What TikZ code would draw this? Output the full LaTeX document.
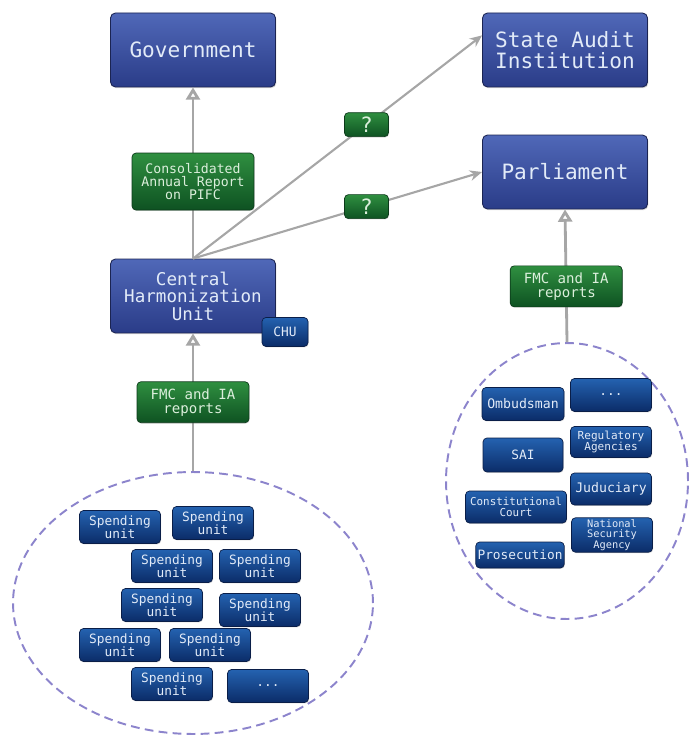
\documentclass[tikz,border=0pt]{standalone}
\usepackage{fontspec}
\setmonofont{DejaVu Sans Mono}
\usetikzlibrary{arrows.meta,shapes.geometric,shadows}
\definecolor{bigtop}{HTML}{5068B8}
\definecolor{bigbot}{HTML}{2A3C88}
\definecolor{bigline}{HTML}{1B2452}
\definecolor{unittop}{HTML}{2462B0}
\definecolor{unitbot}{HTML}{0B2C68}
\definecolor{unitline}{HTML}{0A1E48}
\definecolor{greentop}{HTML}{2F8F40}
\definecolor{greenbot}{HTML}{0E5222}
\definecolor{greenline}{HTML}{0C3A1A}
\definecolor{boxtext}{HTML}{E2EBF8}
\definecolor{greentext}{HTML}{DCEFDC}
\definecolor{grpline}{HTML}{8C84CC}
\definecolor{arrowgray}{HTML}{A6A6A6}
\newcommand{\fs}[1]{\ttfamily\fontsize{#1}{#1}\selectfont}
\begin{document}
\begin{tikzpicture}[x=0.02cm,y=-0.02cm]
	\tikzset{big/.style={draw=bigline,line width=0.5pt,rounded corners=1mm,top color=bigtop,bottom color=bigbot,text=boxtext,font=\fs{12},align=center,minimum width=3.3cm,minimum height=1.48cm,inner sep=1pt,drop shadow={opacity=0.3,shadow xshift=0.5pt,shadow yshift=-0.7pt}},
		unit/.style={draw=unitline,line width=0.4pt,rounded corners=0.8mm,top color=unittop,bottom color=unitbot,text=boxtext,font=\fs{7.3},align=center,minimum width=1.62cm,minimum height=0.66cm,inner sep=1pt,drop shadow={opacity=0.3,shadow xshift=0.4pt,shadow yshift=-0.5pt}},
		rep/.style={draw=greenline,line width=0.4pt,rounded corners=0.8mm,top color=greentop,bottom color=greenbot,text=greentext,font=\fs{8},align=center,minimum width=2.24cm,minimum height=0.82cm,inner sep=1pt,drop shadow={opacity=0.3,shadow xshift=0.4pt,shadow yshift=-0.5pt}},
		q/.style={rep,font=\fs{12},minimum width=0.88cm,minimum height=0.48cm},
		grp/.style={ellipse,draw=grpline,line width=1.1pt,dash pattern=on 5pt off 3pt,inner sep=0pt},
		flow/.style={draw=arrowgray,line width=1.6pt,-{Triangle[open,length=7pt,width=8pt]}},
		link/.style={draw=arrowgray,line width=1.2pt,-{Stealth[length=7pt,width=6pt]}}}
	\useasboundingbox(0,0)rectangle(689,742);
	%%Top boxes
	\node[big](gov) at (193,50){Government};
	\node[big](sai) at (565,50){State Audit\\Institution};
	\node[big](parl) at (565,172){Parliament};
	\node[big,font=\fs{10}](chu) at (193,296){Central\\Harmonization\\Unit};
	\node[unit,minimum width=0.92cm,minimum height=0.58cm](chus) at (285,332){CHU};
	%%Groups
	\node[grp,minimum width=7.2cm,minimum height=5.24cm](su) at (193,603){};
	\node[grp,minimum width=4.84cm,minimum height=5.52cm](ind) at (567,481){};
	\foreach \n/\x/\y in {1/120/527,2/213/523,3/172/566,4/260/566,5/162/605,6/260/610,7/120/645,8/210/645,9/172/684}
	\node[unit](su\n) at (\x,\y){Spending\\unit};
	\node[unit](su10) at (268,686){...};
	\node[unit,minimum width=1.64cm,font=\fs{7.5}](omb) at (523,404){Ombudsman};
	\node[unit](etc) at (611,395){...};
	\node[unit,minimum width=1.6cm,minimum height=0.68cm](sai2) at (523,455){SAI};
	\node[unit,minimum height=0.62cm,font=\fs{6.3}](reg) at (611,442){Regulatory\\Agencies};
	\node[unit,minimum width=2.02cm,minimum height=0.64cm,font=\fs{6.2}](con) at (516,507){Constitutional\\Court};
	\node[unit,minimum height=0.64cm,font=\fs{7.5}](jud) at (611,489){Juduciary};
	\node[unit,minimum width=1.7cm,minimum height=0.52cm](pro) at (520,555){Prosecution};
	\node[unit,minimum height=0.68cm,font=\fs{5.9}](nsa) at (612,535){National\\Security\\Agency};
	%%Reports
	\draw[flow](su.north)--(chu.south)node[pos=0.5,rep](fmcl){FMC and IA\\reports};
	\draw[flow](chu.north)--(gov.south)node[pos=0.45,rep,font=\fs{7.5},minimum width=2.44cm,minimum height=1.14cm](cons){Consolidated\\Annual Report\\on PIFC};
	\draw[flow](ind.north)--(parl.south)node[pos=0.42,rep](fmcr){FMC and IA\\reports};
	\draw[link](chu.north)--(sai.170)node[pos=0.6,q](q1){?};
	\draw[link](chu.north)--(parl.west)node[pos=0.6,q](q2){?};
\end{tikzpicture}
\end{document}
